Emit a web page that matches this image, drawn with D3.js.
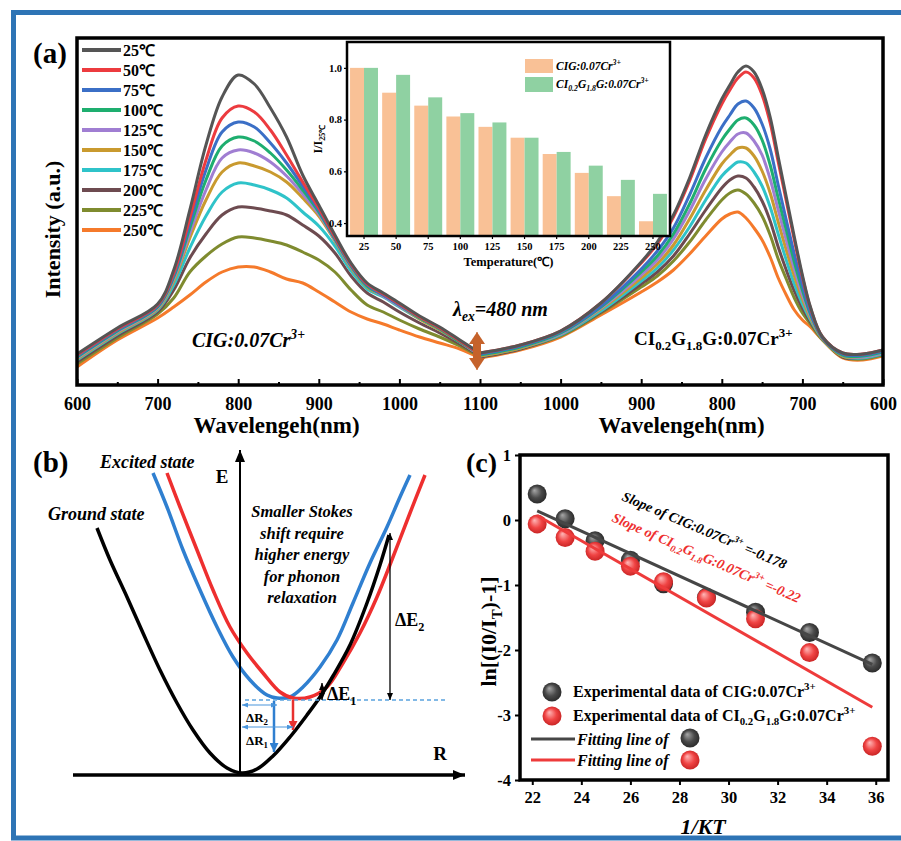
<!DOCTYPE html>
<html>
<head>
<meta charset="utf-8">
<script src="https://cdn.jsdelivr.net/npm/d3@7"></script>
<style>
  body { margin: 0; background: #fff; }
  text { font-family: "Liberation Serif", "Times New Roman", serif; font-weight: bold; }
</style>
</head>
<body>
<svg id="fig"></svg>
<script>
// ---------- panel (a): emission spectra ----------
const temps = ['25℃', '50℃', '75℃', '100℃', '125℃', '150℃', '175℃', '200℃', '225℃', '250℃']
const tempColors = ['#555555', '#ec3b3f', '#3b6fc6', '#1eae6f', '#a07ed2', '#c99a2f', '#2fc3c9', '#6d4b50', '#7f8b2f', '#f57a2b']

// CIG:0.07Cr3+ (left half, a.u.)
const wlCIG = [600, 650, 700, 720, 740, 760, 780, 800, 820, 840, 860, 880, 900, 920, 940, 960, 980, 1000, 1025, 1050, 1075, 1100]
const cigSpectra = [
  [31, 57, 81, 115, 175, 240, 288, 310, 301, 277, 248, 210, 180, 150, 122, 102, 92, 82, 69, 58, 45, 32],
  [30, 56, 80, 112, 167, 225, 267, 279, 273, 255, 230, 203, 177, 148, 121, 101, 91, 81, 68, 57, 44, 31],
  [29, 55, 79, 110, 162, 215, 253, 263, 258, 242, 222, 199, 175, 147, 120, 100, 90, 80, 68, 57, 44, 31],
  [28, 54, 78, 108, 157, 205, 239, 248, 244, 232, 215, 195, 173, 146, 119, 99, 90, 80, 67, 56, 43, 31],
  [27, 53, 77, 106, 152, 195, 227, 235, 232, 223, 209, 191, 171, 145, 118, 99, 89, 79, 67, 56, 43, 30],
  [26, 52, 76, 104, 147, 185, 213, 222, 219, 213, 203, 187, 169, 144, 117, 98, 89, 79, 66, 55, 43, 30],
  [25, 51, 75, 100, 137, 169, 193, 202, 200, 195, 187, 173, 159, 139, 114, 96, 88, 78, 66, 55, 43, 30],
  [23, 49, 73, 95, 127, 151, 170, 178, 177, 174, 170, 160, 149, 132, 109, 92, 83, 73, 62, 52, 41, 29],
  [21, 47, 71, 87, 113, 129, 141, 148, 147, 144, 140, 133, 125, 113, 95, 80, 73, 65, 56, 48, 39, 28],
  [18, 45, 67, 78, 90, 103, 113, 118, 118, 113, 106, 102, 93, 83, 73, 66, 61, 55, 48, 42, 36, 27]
]

// CI0.2G1.8G:0.07Cr3+ (right half, mirrored axis, a.u.)
const wlCIGG = [600, 625, 650, 675, 690, 700, 710, 720, 730, 740, 750, 760, 770, 780, 790, 800, 820, 840, 860, 880, 900, 950, 1000, 1050, 1100]
const ciggSpectra = [
  [35, 31, 32, 48, 78, 110, 148, 188, 228, 268, 296, 313, 319, 313, 300, 286, 250, 207, 170, 143, 123, 82, 54, 40, 32],
  [35, 31, 32, 48, 77, 108, 145, 184, 223, 262, 290, 307, 313, 307, 295, 281, 246, 204, 168, 141, 122, 82, 54, 40, 32],
  [34, 30, 31, 47, 73, 100, 131, 165, 200, 236, 261, 277, 284, 281, 270, 258, 227, 190, 157, 134, 116, 79, 53, 39, 31],
  [33, 29, 30, 47, 71, 95, 123, 155, 187, 220, 245, 260, 267, 265, 256, 245, 216, 181, 151, 129, 113, 78, 52, 38, 30],
  [32, 28, 30, 47, 69, 90, 116, 145, 175, 206, 230, 244, 252, 251, 243, 233, 206, 174, 146, 125, 110, 77, 51, 38, 30],
  [32, 28, 29, 46, 67, 86, 109, 135, 163, 192, 214, 229, 237, 237, 230, 221, 195, 166, 140, 121, 107, 76, 51, 37, 29],
  [31, 27, 29, 46, 65, 81, 101, 125, 151, 178, 199, 213, 222, 223, 217, 209, 185, 158, 135, 117, 104, 74, 50, 37, 29],
  [31, 27, 28, 46, 63, 77, 94, 115, 138, 164, 184, 198, 207, 209, 205, 197, 175, 151, 129, 113, 101, 73, 50, 36, 28],
  [30, 26, 28, 45, 61, 72, 87, 106, 126, 150, 169, 182, 191, 195, 192, 185, 165, 143, 124, 109, 98, 72, 49, 36, 28],
  [29, 25, 27, 45, 58, 65, 75, 90, 107, 128, 145, 157, 167, 173, 171, 166, 149, 131, 115, 103, 93, 70, 48, 35, 27]
]
const wlTicksLeft = [600, 700, 800, 900, 1000, 1100]
const wlTicksRight = [1000, 900, 800, 700, 600]

// inset: normalised intensity I/I25
const ratioT = [25, 50, 75, 100, 125, 150, 175, 200, 225, 250]
const ratioCIG = [1.0, 0.904, 0.854, 0.812, 0.772, 0.73, 0.667, 0.594, 0.504, 0.407]
const ratioCIGG = [1.0, 0.973, 0.886, 0.825, 0.789, 0.73, 0.675, 0.622, 0.567, 0.513]
const ratioTicks = [0.4, 0.6, 0.8, 1.0]

// ---------- panel (c): ln[(I0/IT)-1] vs 1/kT ----------
const invKT = [22.2, 23.34, 24.56, 26.0, 27.35, 29.1, 31.1, 33.3, 35.86]
const lnCIG = [0.40, 0.02, -0.32, -0.62, -0.98, -1.19, -1.42, -1.73, -2.2]
const lnCIGG = [-0.06, -0.27, -0.48, -0.71, -0.95, -1.2, -1.52, -2.04, -3.48]
const fitCIG = [[22.2, 0.14], [35.86, -2.22]]
const fitCIGG = [[22.2, 0.07], [35.86, -2.88]]
const cTicksX = [22, 24, 26, 28, 30, 32, 34, 36]
const cTicksY = [-4, -3, -2, -1, 0, 1]

// ---------- panel (b): configuration-coordinate curves (R, E) ----------
const groundState = [[-1.43, 2.45], [-1.30, 2.13], [-1.13, 1.76], [-0.97, 1.40], [-0.80, 1.03], [-0.63, 0.70], [-0.47, 0.43], [-0.30, 0.20], [-0.13, 0.05], [0.02, 0], [0.17, 0.04], [0.33, 0.17], [0.50, 0.36], [0.67, 0.58], [0.80, 0.76], [0.93, 0.97], [1.10, 1.28], [1.27, 1.70], [1.40, 2.08], [1.49, 2.38]]
const excitedBlue = [[-0.87, 3.00], [-0.73, 2.66], [-0.57, 2.23], [-0.40, 1.83], [-0.23, 1.46], [-0.07, 1.16], [0.10, 0.93], [0.27, 0.78], [0.37, 0.75], [0.50, 0.76], [0.63, 0.86], [0.80, 1.06], [0.97, 1.33], [1.13, 1.70], [1.30, 2.10], [1.47, 2.46], [1.60, 2.76], [1.70, 2.98]]
const excitedRed = [[-0.73, 3.00], [-0.60, 2.66], [-0.43, 2.23], [-0.27, 1.83], [-0.10, 1.46], [0.07, 1.20], [0.23, 1.00], [0.40, 0.81], [0.53, 0.75], [0.70, 0.76], [0.87, 0.86], [1.03, 1.10], [1.20, 1.40], [1.37, 1.76], [1.53, 2.16], [1.70, 2.60], [1.85, 2.98]]

// ======================================================================
const W = 901, H = 841
const svg = d3.select('#fig').attr('width', W).attr('height', H)
svg.append('rect').attr('width', W).attr('height', H).attr('fill', '#fff')

const defs = svg.append('defs')
function marker(id, color, len, wid) {
    defs.append('marker')
        .attr('id', id)
        .attr('viewBox', `0 0 ${len} ${wid}`)
        .attr('refX', len).attr('refY', wid / 2)
        .attr('markerWidth', len).attr('markerHeight', wid)
        .attr('markerUnits', 'userSpaceOnUse')
        .attr('orient', 'auto-start-reverse')
        .append('path')
        .attr('d', `M0,0L${len},${wid / 2}L0,${wid}Z`)
        .attr('fill', color)
}
marker('arBlack', '#000', 12, 10)
marker('arSmall', '#000', 7, 6)
marker('arBlue', '#2f7fd0', 9, 9)
marker('arRed', '#e8312f', 9, 9)
marker('arLight', '#4a95dc', 6, 5)
marker('arBrown', '#c5622b', 12, 16)

function sphere(id, c0, c1, c2) {
    let g = defs.append('radialGradient').attr('id', id)
        .attr('cx', 0.5).attr('cy', 0.5).attr('r', 0.55).attr('fx', 0.35).attr('fy', 0.3)
    g.append('stop').attr('offset', 0).attr('stop-color', c0)
    g.append('stop').attr('offset', 0.55).attr('stop-color', c1)
    g.append('stop').attr('offset', 1).attr('stop-color', c2)
}
sphere('sphGray', '#a8a8a8', '#4a4a4a', '#262626')
sphere('sphRed', '#ffb8b8', '#f04444', '#c42020')

// text with sub/superscripts
function rich(g, x, y, parts, o) {
    o = o || {}
    let size = o.size || 16
    let t = g.append('text').attr('x', x).attr('y', y)
        .attr('font-size', size)
        .attr('text-anchor', o.anchor || 'start')
        .attr('fill', o.fill || '#000')
        .attr('font-style', o.italic ? 'italic' : 'normal')
        .attr('font-weight', o.weight || 'bold')
    let shift = 0
    parts.forEach(p => {
        let str = Array.isArray(p) ? p[0] : p
        let kind = Array.isArray(p) ? p[1] : null
        let target = kind === 'sup' ? -0.42 * size : kind === 'sub' ? 0.25 * size : 0
        let ts = t.append('tspan').text(str).attr('dy', target - shift)
        if (kind) ts.attr('font-size', size * 0.68)
        shift = target
    })
    return t
}

// outer blue border
svg.append('rect').attr('x', 13.5).attr('y', 12.5).attr('width', W).attr('height', 825.5)
    .attr('fill', 'none').attr('stroke', '#2e74b5').attr('stroke-width', 5)

// ---------------- panel (a) ----------------
const A = {left: 77, right: 883, top: 38, bottom: 385}
const xL = d3.scaleLinear().domain([600, 1100]).range([A.left, 480])
const xR = d3.scaleLinear().domain([1100, 600]).range([480, A.right])
const yA = d3.scaleLinear().domain([0, 347]).range([A.bottom, A.top])

const ga = svg.append('g')
defs.append('clipPath').attr('id', 'clipA').append('rect')
    .attr('x', A.left).attr('y', A.top).attr('width', A.right - A.left).attr('height', A.bottom - A.top)

const curves = ga.append('g').attr('clip-path', 'url(#clipA)')
const lineL = d3.line().x((d, i) => xL(wlCIG[i])).y(d => yA(d)).curve(d3.curveCatmullRom.alpha(0.5))
const lineR = d3.line().x((d, i) => xR(wlCIGG[i])).y(d => yA(d)).curve(d3.curveCatmullRom.alpha(0.5))
for (let k = temps.length - 1; k >= 0; k--) {
    curves.append('path').attr('d', lineL(cigSpectra[k]))
        .attr('fill', 'none').attr('stroke', tempColors[k]).attr('stroke-width', 3)
    curves.append('path').attr('d', lineR(ciggSpectra[k]))
        .attr('fill', 'none').attr('stroke', tempColors[k]).attr('stroke-width', 3)
}

// axes (ticks pointing inside)
ga.append('g').attr('transform', `translate(0,${A.bottom})`)
    .call(d3.axisBottom(xL).tickValues(wlTicksLeft).tickSize(-6).tickPadding(12).tickFormat(d3.format('d')))
ga.append('g').attr('transform', `translate(0,${A.bottom})`)
    .call(d3.axisBottom(xR).tickValues(wlTicksRight).tickSize(-6).tickPadding(12).tickFormat(d3.format('d')))
ga.append('g').attr('transform', `translate(0,${A.bottom})`)
    .call(d3.axisBottom(xL).tickValues([650, 750, 850, 950, 1050]).tickSize(-3).tickFormat(''))
ga.append('g').attr('transform', `translate(0,${A.bottom})`)
    .call(d3.axisBottom(xR).tickValues([1050, 950, 850, 750, 650]).tickSize(-3).tickFormat(''))
ga.selectAll('.domain').remove()
ga.selectAll('.tick line').attr('stroke', '#000').attr('stroke-width', 2)
ga.selectAll('.tick text').attr('font-size', 18).attr('font-family', '"Liberation Serif", serif').attr('font-weight', 'bold').attr('fill', '#000')

ga.append('rect').attr('x', A.left).attr('y', A.top).attr('width', A.right - A.left).attr('height', A.bottom - A.top)
    .attr('fill', 'none').attr('stroke', '#000').attr('stroke-width', 3.5)

ga.append('text').attr('x', (xL(600) + xL(1100)) / 2 - 2).attr('y', 433).attr('text-anchor', 'middle')
    .attr('font-size', 23).text('Wavelengeh(nm)')
ga.append('text').attr('x', (xR(1100) + xR(600)) / 2).attr('y', 433).attr('text-anchor', 'middle')
    .attr('font-size', 23).text('Wavelengeh(nm)')
ga.append('text').attr('transform', `translate(60,${(A.top + A.bottom) / 2 + 18}) rotate(-90)`)
    .attr('text-anchor', 'middle').attr('font-size', 22).text('Intensity (a.u.)')
ga.append('text').attr('x', 33).attr('y', 63).attr('font-size', 29).text('(a)')

// temperature legend
const leg = ga.append('g')
temps.forEach((t, i) => {
    let yy = 50 + i * 20
    leg.append('line').attr('x1', 82).attr('x2', 121).attr('y1', yy).attr('y2', yy)
        .attr('stroke', tempColors[i]).attr('stroke-width', 4)
    leg.append('text').attr('x', 123).attr('y', yy + 6).attr('font-size', 16).text(t)
})

rich(ga, 192, 347, ['CIG:0.07Cr', ['3+', 'sup']], {size: 20, italic: true})
rich(ga, 634, 345, ['CI', ['0.2', 'sub'], 'G', ['1.8', 'sub'], 'G:0.07Cr', ['3+', 'sup']], {size: 19})
rich(ga, 453, 316, ['λ', ['ex', 'sub'], '=480 nm'], {size: 20, italic: true})
ga.append('line').attr('x1', 477).attr('x2', 477).attr('y1', 342).attr('y2', 360)
    .attr('stroke', '#c5622b').attr('stroke-width', 8)
ga.append('line').attr('x1', 477).attr('x2', 477).attr('y1', 345).attr('y2', 332)
    .attr('stroke', '#c5622b').attr('stroke-width', 1).attr('marker-end', 'url(#arBrown)')
ga.append('line').attr('x1', 477).attr('x2', 477).attr('y1', 357).attr('y2', 370)
    .attr('stroke', '#c5622b').attr('stroke-width', 1).attr('marker-end', 'url(#arBrown)')

// ---------------- inset ----------------
const I = {left: 347, right: 670, top: 42, bottom: 236}
const gi = svg.append('g')
gi.append('rect').attr('x', I.left).attr('y', I.top).attr('width', I.right - I.left).attr('height', I.bottom - I.top)
    .attr('fill', '#fff')
const xI = d3.scaleBand().domain(ratioT).range([I.left, I.right]).paddingInner(0.13).paddingOuter(0.095)
const yI = d3.scaleLinear().domain([0.35, 1.1]).range([I.bottom, I.top])
const bw = xI.bandwidth() / 2
gi.selectAll('.barA').data(ratioT).join('rect')
    .attr('x', d => xI(d)).attr('width', bw)
    .attr('y', (d, i) => yI(ratioCIG[i])).attr('height', (d, i) => I.bottom - yI(ratioCIG[i]))
    .attr('fill', '#f9c196')
gi.selectAll('.barB').data(ratioT).join('rect')
    .attr('x', d => xI(d) + bw).attr('width', bw)
    .attr('y', (d, i) => yI(ratioCIGG[i])).attr('height', (d, i) => I.bottom - yI(ratioCIGG[i]))
    .attr('fill', '#8fd1a2')
gi.append('g').attr('transform', `translate(0,${I.bottom})`)
    .call(d3.axisBottom(xI).tickSize(3).tickPadding(4))
gi.append('g').attr('transform', `translate(${I.left},0)`)
    .call(d3.axisLeft(yI).tickValues(ratioTicks).tickSize(3).tickPadding(2).tickFormat(d3.format('.1f')))
gi.selectAll('.domain').remove()
gi.selectAll('.tick line').attr('stroke', '#000').attr('stroke-width', 1.2)
gi.selectAll('.tick text').attr('font-size', 10.5).attr('font-family', '"Liberation Serif", serif').attr('font-weight', 'bold').attr('fill', '#000')
gi.append('rect').attr('x', I.left).attr('y', I.top).attr('width', I.right - I.left).attr('height', I.bottom - I.top)
    .attr('fill', 'none').attr('stroke', '#000').attr('stroke-width', 2.5)
gi.append('text').attr('x', (I.left + I.right) / 2).attr('y', 266).attr('text-anchor', 'middle')
    .attr('font-size', 12.5).text('Temperature(℃)')
rich(gi, 0, 0, ['I/I', ['25℃', 'sub']], {size: 12, anchor: 'middle'})
    .attr('transform', `translate(322,${(I.top + I.bottom) / 2}) rotate(-90)`)
gi.append('rect').attr('x', 525).attr('y', 59).attr('width', 28).attr('height', 14).attr('fill', '#f9c196')
gi.append('rect').attr('x', 525).attr('y', 77).attr('width', 28).attr('height', 15).attr('fill', '#8fd1a2')
rich(gi, 556, 70, ['CIG:0.07Cr', ['3+', 'sup']], {size: 11.5, italic: true})
rich(gi, 556, 88, ['CI', ['0.2', 'sub'], 'G', ['1.8', 'sub'], 'G:0.07Cr', ['3+', 'sup']], {size: 11.5, italic: true})

// ---------------- panel (b) ----------------
const gb = svg.append('g')
const xB = d3.scaleLinear().domain([0, 1]).range([240, 340])
const yB = d3.scaleLinear().domain([0, 1]).range([773, 673])
const lineB = d3.line().x(d => xB(d[0])).y(d => yB(d[1])).curve(d3.curveCatmullRom.alpha(0.5))

gb.append('path').attr('d', lineB(excitedBlue)).attr('fill', 'none').attr('stroke', '#2f7fd0').attr('stroke-width', 3.5)
gb.append('path').attr('d', lineB(excitedRed)).attr('fill', 'none').attr('stroke', '#ee2f2f').attr('stroke-width', 3.5)
gb.append('path').attr('d', lineB(groundState)).attr('fill', 'none').attr('stroke', '#000').attr('stroke-width', 3.5)

// axes
gb.append('line').attr('x1', xB(0)).attr('x2', xB(0)).attr('y1', yB(-0.02)).attr('y2', yB(3.23))
    .attr('stroke', '#000').attr('stroke-width', 2).attr('marker-end', 'url(#arBlack)')
gb.append('line').attr('x1', xB(-1.67)).attr('x2', xB(2.25)).attr('y1', yB(-0.02)).attr('y2', yB(-0.02))
    .attr('stroke', '#000').attr('stroke-width', 3.5).attr('marker-end', 'url(#arBlack)')
gb.append('text').attr('x', xB(-0.18)).attr('y', yB(2.9)).attr('text-anchor', 'middle').attr('font-size', 19).text('E')
gb.append('text').attr('x', xB(2.0)).attr('y', yB(0.13)).attr('text-anchor', 'middle').attr('font-size', 19).text('R')

// dashed minimum level
gb.append('line').attr('x1', xB(0.05)).attr('x2', xB(2.05)).attr('y1', yB(0.73)).attr('y2', yB(0.73))
    .attr('stroke', '#5aa2de').attr('stroke-width', 1.3).attr('stroke-dasharray', '4,3')

// emission arrows
gb.append('line').attr('x1', xB(0.34)).attr('x2', xB(0.34)).attr('y1', yB(0.72)).attr('y2', yB(0.21))
    .attr('stroke', '#2f7fd0').attr('stroke-width', 2.5).attr('marker-end', 'url(#arBlue)')
gb.append('line').attr('x1', xB(0.53)).attr('x2', xB(0.53)).attr('y1', yB(0.73)).attr('y2', yB(0.43))
    .attr('stroke', '#e8312f').attr('stroke-width', 2.5).attr('marker-end', 'url(#arRed)')

// ΔR arrows
;[[0.68, 0.37], [0.46, 0.53]].forEach(([e, r]) => {
    gb.append('line').attr('x1', xB(0.02)).attr('x2', xB(r)).attr('y1', yB(e)).attr('y2', yB(e))
        .attr('stroke', '#4a95dc').attr('stroke-width', 1.2)
        .attr('marker-start', 'url(#arLight)').attr('marker-end', 'url(#arLight)')
})
rich(gb, xB(0.06), yB(0.51), ['ΔR', ['2', 'sub']], {size: 13, weight: 'normal'})
rich(gb, xB(0.06), yB(0.28), ['ΔR', ['1', 'sub']], {size: 13, weight: 'normal'})

// ΔE arrows
gb.append('line').attr('x1', xB(0.82)).attr('x2', xB(0.82)).attr('y1', yB(0.73)).attr('y2', yB(0.9))
    .attr('stroke', '#000').attr('stroke-width', 1.3)
    .attr('marker-start', 'url(#arSmall)').attr('marker-end', 'url(#arSmall)')
rich(gb, xB(0.87), yB(0.73), ['ΔE', ['1', 'sub']], {size: 18, weight: 'normal'})
gb.append('line').attr('x1', xB(1.50)).attr('x2', xB(1.50)).attr('y1', yB(0.73)).attr('y2', yB(2.40))
    .attr('stroke', '#000').attr('stroke-width', 1.3)
    .attr('marker-start', 'url(#arSmall)').attr('marker-end', 'url(#arSmall)')
rich(gb, xB(1.55), yB(1.47), ['ΔE', ['2', 'sub']], {size: 18, weight: 'normal'})

gb.append('text').attr('x', 100).attr('y', 468).attr('font-size', 18).attr('font-style', 'italic').text('Excited state')
gb.append('text').attr('x', 48).attr('y', 520).attr('font-size', 18).attr('font-style', 'italic').text('Ground state')
;['Smaller Stokes', 'shift require', 'higher energy', 'for phonon', 'relaxation'].forEach((s, i) => {
    gb.append('text').attr('x', 302).attr('y', 517 + i * 21.5).attr('text-anchor', 'middle')
        .attr('font-size', 16.5).attr('font-style', 'italic').text(s)
})
gb.append('text').attr('x', 33).attr('y', 472).attr('font-size', 29).text('(b)')

// ---------------- panel (c) ----------------
const C = {left: 520, right: 888, top: 455, bottom: 780}
const gc = svg.append('g')
const xC = d3.scaleLinear().domain([21.5, 36.5]).range([C.left, C.right])
const yC = d3.scaleLinear().domain([-4, 1]).range([C.bottom, C.top])

gc.append('g').attr('transform', `translate(0,${C.bottom})`)
    .call(d3.axisBottom(xC).tickValues(cTicksX).tickSize(5).tickPadding(6).tickFormat(d => String(d)))
gc.append('g').attr('transform', `translate(${C.left},0)`)
    .call(d3.axisLeft(yC).tickValues(cTicksY).tickSize(5).tickPadding(4).tickFormat(d => String(d)))
gc.selectAll('.domain').remove()
gc.selectAll('.tick line').attr('stroke', '#000').attr('stroke-width', 2)
gc.selectAll('.tick text').attr('font-size', 16.5).attr('font-family', '"Liberation Sans", Arial, sans-serif')
    .attr('font-weight', 'bold').attr('fill', '#000')

const gcPts = gc.append('g')
gcPts.selectAll('.pg').data(invKT).join('circle')
    .attr('cx', d => xC(d)).attr('cy', (d, i) => yC(lnCIG[i])).attr('r', 9.5).attr('fill', 'url(#sphGray)')
gcPts.selectAll('.pr').data(invKT).join('circle')
    .attr('cx', d => xC(d)).attr('cy', (d, i) => yC(lnCIGG[i])).attr('r', 9.5).attr('fill', 'url(#sphRed)')
const lineC = d3.line().x(d => xC(d[0])).y(d => yC(d[1]))
gc.append('path').attr('d', lineC(fitCIG)).attr('stroke', '#464646').attr('stroke-width', 3).attr('fill', 'none')
gc.append('path').attr('d', lineC(fitCIGG)).attr('stroke', '#ee3b3b').attr('stroke-width', 3).attr('fill', 'none')

gc.append('rect').attr('x', C.left).attr('y', C.top).attr('width', C.right - C.left).attr('height', C.bottom - C.top)
    .attr('fill', 'none').attr('stroke', '#000').attr('stroke-width', 3.5)

rich(gc, 0, 0, ['Slope of CIG:0.07Cr', ['3+', 'sup'], ' =-0.178'], {size: 14, italic: true})
    .attr('transform', 'translate(621,500) rotate(23)')
rich(gc, 0, 0, ['Slope of CI', ['0.2', 'sub'], 'G', ['1.8', 'sub'], 'G:0.07Cr', ['3+', 'sup'], ' =-0.22'], {size: 14, italic: true, fill: '#ee2f2f'})
    .attr('transform', 'translate(611,521) rotate(23.7)')

// legend
gc.append('circle').attr('cx', 552).attr('cy', 692).attr('r', 9.5).attr('fill', 'url(#sphGray)')
gc.append('circle').attr('cx', 552).attr('cy', 716).attr('r', 9.5).attr('fill', 'url(#sphRed)')
rich(gc, 573, 697, ['Experimental data of CIG:0.07Cr', ['3+', 'sup']], {size: 16})
rich(gc, 573, 721, ['Experimental data of CI', ['0.2', 'sub'], 'G', ['1.8', 'sub'], 'G:0.07Cr', ['3+', 'sup']], {size: 16})
gc.append('line').attr('x1', 531).attr('x2', 575).attr('y1', 739).attr('y2', 739).attr('stroke', '#464646').attr('stroke-width', 3)
gc.append('line').attr('x1', 531).attr('x2', 575).attr('y1', 760).attr('y2', 760).attr('stroke', '#ee3b3b').attr('stroke-width', 3)
gc.append('text').attr('x', 577).attr('y', 745).attr('font-size', 16).attr('font-style', 'italic').text('Fitting line of')
gc.append('text').attr('x', 577).attr('y', 766).attr('font-size', 16).attr('font-style', 'italic').text('Fitting line of')
gc.append('circle').attr('cx', 690).attr('cy', 738).attr('r', 9.5).attr('fill', 'url(#sphGray)')
gc.append('circle').attr('cx', 690).attr('cy', 760).attr('r', 9.5).attr('fill', 'url(#sphRed)')

gc.append('text').attr('x', 703).attr('y', 834).attr('text-anchor', 'middle').attr('font-size', 22)
    .attr('font-style', 'italic').text('1/KT')
rich(gc, 0, 0, ['ln[(I0/I', ['T', 'sub'], ')-1]'], {size: 22, anchor: 'middle'})
    .attr('transform', `translate(496,${(C.top + C.bottom) / 2 + 14}) rotate(-90)`)
gc.append('text').attr('x', 466).attr('y', 472).attr('font-size', 28).text('(c)')
</script>
</body>
</html>
